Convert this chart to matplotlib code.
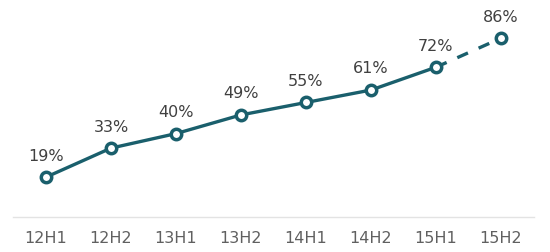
import matplotlib.pyplot as plt

# Datos
periodos = ['12H1', '12H2', '13H1', '13H2', '14H1', '14H2', '15H1', '15H2']
valores = [19, 33, 40, 49, 55, 61, 72, 86]

color_linea = '#1A5F6C'
plt.rcParams['font.family'] = ['DejaVu Sans']

fig = plt.figure(figsize=(5.5, 2.53), dpi=100)
ax = fig.add_axes([0.0245, 0.14, 0.9455, 0.82])

x = list(range(len(periodos)))

# Tramo real (solido) y estimado (discontinuo)
ax.plot(x[:-1], valores[:-1], color=color_linea, lw=2.4, zorder=2)
ax.plot(x[-2:], valores[-2:], color=color_linea, lw=2.4, dashes=(3.5, 3.5), zorder=2)
ax.plot(x, valores, 'o', color=color_linea, markerfacecolor='white',
        markersize=7.5, markeredgewidth=2.5, zorder=3)

for xi, v in zip(x, valores):
    ax.annotate(f'{v}%', (xi, v), xytext=(0, 10.5), textcoords='offset points',
                ha='center', va='bottom', fontsize=11.5, color='#404040')

ax.set_xlim(-0.5, 7.5)
ax.set_ylim(0, 100)
ax.set_xticks(x)
ax.set_xticklabels(periodos, fontsize=11.5, color='#606060')
ax.tick_params(axis='x', length=0, pad=10)
ax.set_yticks([])
for lado in ['top', 'right', 'left']:
    ax.spines[lado].set_visible(False)
ax.spines['bottom'].set_color('#E3E3E3')
ax.spines['bottom'].set_linewidth(1)

fig.savefig('out.png', dpi=100)
